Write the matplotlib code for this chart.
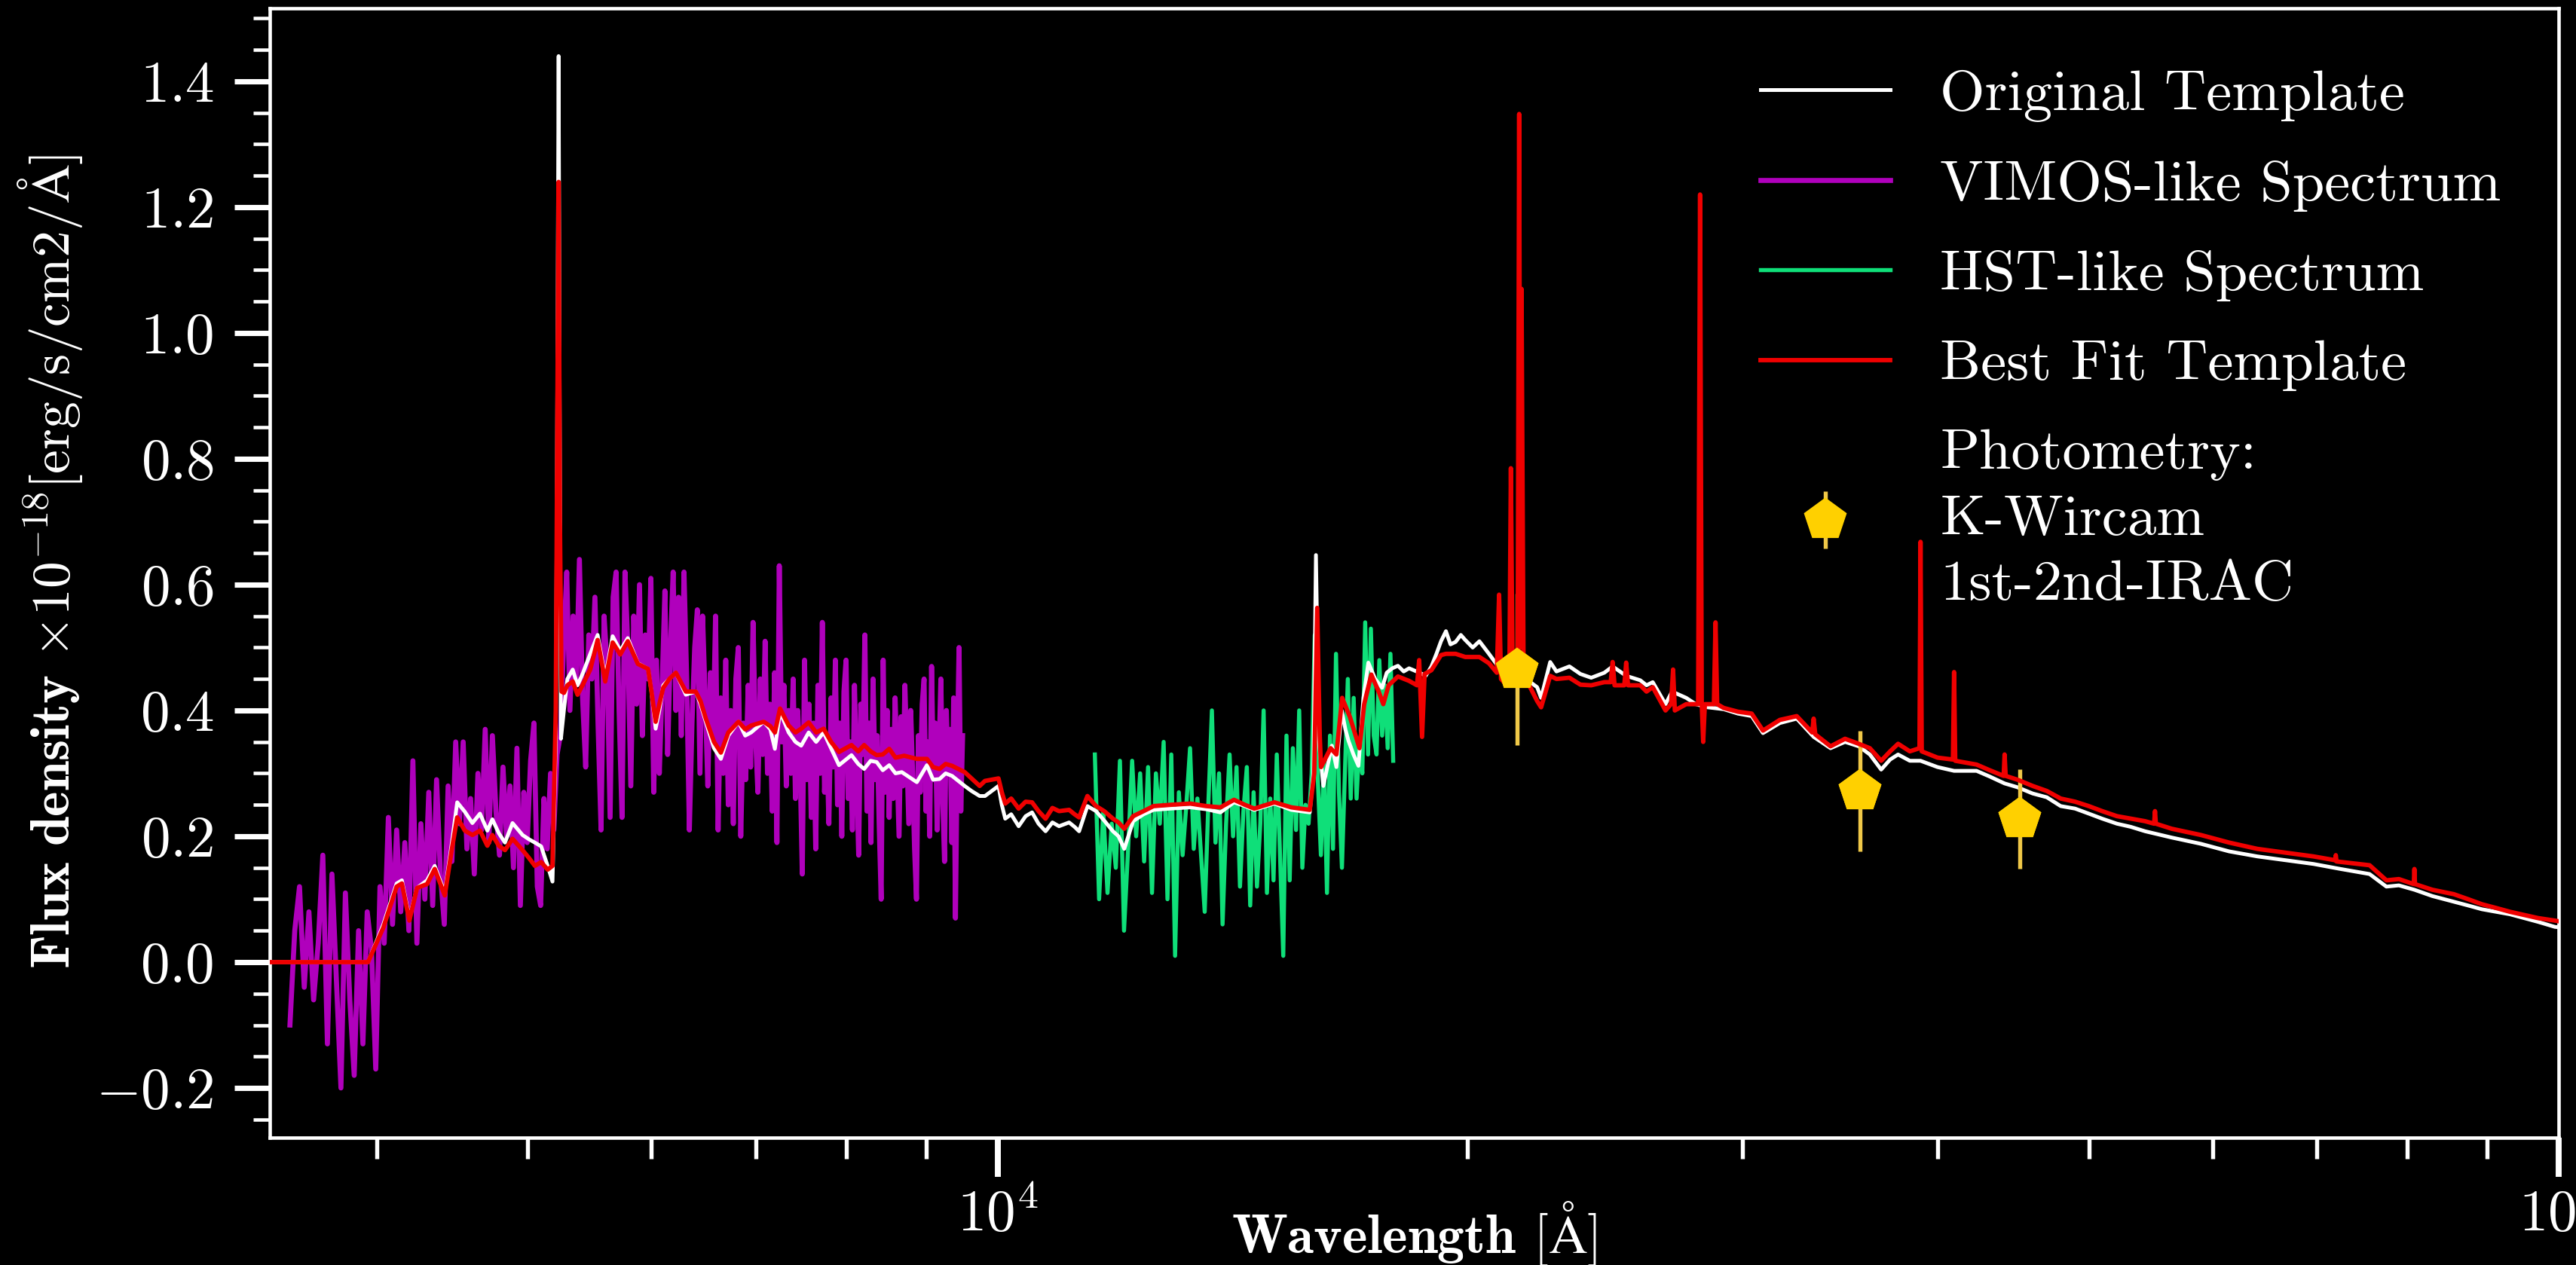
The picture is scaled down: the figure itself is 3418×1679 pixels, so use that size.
import numpy as np
import matplotlib
matplotlib.use("Agg")
import matplotlib.pyplot as plt
from matplotlib.ticker import MultipleLocator, LogLocator, NullFormatter, LogFormatterSciNotation

# ---------------- data ----------------
# Original template (white)
orig_wave = [3000, 3950, 4040, 4120, 4152, 4198, 4246, 4309, 4358, 4423, 4470, 4505, 4556, 4607,
             4659, 4710, 4745, 4790, 4834, 4888, 4961, 5010, 5052, 5099, 5148, 5185, 5210, 5224,
             5232, 5240, 5250, 5273, 5300, 5342, 5380, 5422, 5482, 5542, 5604, 5666, 5730, 5794,
             5881, 5970, 6000, 6037, 6070, 6105, 6160, 6220, 6312, 6405, 6450, 6501, 6580, 6647,
             6720, 6822, 6890, 6950, 7080, 7150, 7198, 7253, 7346, 7420, 7483, 7566, 7650, 7735,
             7820, 7912, 8059, 8140, 8211, 8290, 8364, 8440, 8521, 8600, 8680, 8875, 9008, 9090,
             9177, 9260, 9348, 9524, 9621, 9737, 9813, 10011, 10060, 10111, 10200, 10313, 10420,
             10519, 10620, 10731, 10840, 10946, 11110, 11200, 11275, 11414, 11560, 11700, 11852,
             11950, 12052, 12210, 12400, 12584, 12900, 13287, 13600, 13890, 14170, 14400, 14600,
             15040, 15420, 15845, 15930, 15990, 16060, 16165, 16370, 16480, 16610, 16700, 16775,
             16900, 17025, 17150, 17275, 17450, 17630, 17750, 17895, 18046, 18200, 18345, 18630,
             18800, 18960, 19100, 19230, 19370, 19500, 19650, 19800, 19930, 20150, 20350, 20640,
             20850, 21010, 21300, 21600, 21800, 22160, 22290, 22590, 22800, 23240, 23620, 24000,
             24470, 24770, 25270, 25800, 26040, 26280, 26780, 27040, 27610, 28000, 28500, 29180,
             29800, 30410, 30920, 31700, 32500, 33320, 34160, 34900, 35610, 36200, 36810, 37300,
             37740, 38400, 39010, 40000, 40990, 42370, 43200, 44160, 45000, 46030, 47000, 47970,
             49000, 50000, 51000, 52120, 53200, 54330, 56500, 59000, 61500, 64120, 66800, 69650,
             72500, 75660, 77560, 79000, 80830, 83000, 85670, 87500, 89300, 91200, 93080, 95000,
             97000, 99450, 100500]
orig_flux = [0.0, 0.0, 0.06, 0.125, 0.13, 0.07, 0.118, 0.13, 0.153, 0.11, 0.19, 0.254, 0.239, 0.221,
             0.236, 0.209, 0.227, 0.205, 0.19, 0.221, 0.202, 0.195, 0.19, 0.184, 0.153, 0.128, 0.35, 1.0,
             1.44, 0.9, 0.355, 0.40, 0.45, 0.465, 0.44, 0.459, 0.49, 0.52, 0.452, 0.518, 0.495, 0.515,
             0.475, 0.466, 0.43, 0.371, 0.40, 0.44, 0.45, 0.46, 0.425, 0.43, 0.41, 0.382, 0.34, 0.323,
             0.36, 0.382, 0.36, 0.365, 0.382, 0.37, 0.339, 0.398, 0.365, 0.35, 0.344, 0.365, 0.35, 0.365,
             0.34, 0.313, 0.329, 0.315, 0.307, 0.32, 0.318, 0.305, 0.313, 0.30, 0.302, 0.286, 0.313, 0.29,
             0.291, 0.30, 0.296, 0.28, 0.272, 0.264, 0.264, 0.28, 0.25, 0.228, 0.235, 0.216, 0.232,
             0.238, 0.22, 0.208, 0.222, 0.216, 0.222, 0.215, 0.208, 0.248, 0.24, 0.225, 0.208,
             0.20, 0.18, 0.224, 0.235, 0.242, 0.244, 0.246, 0.243, 0.238, 0.254, 0.248, 0.242,
             0.252, 0.242, 0.238, 0.30, 0.647, 0.35, 0.28, 0.344, 0.31, 0.40, 0.37, 0.352,
             0.33, 0.312, 0.42, 0.476, 0.45, 0.436, 0.46, 0.467, 0.471, 0.462, 0.467, 0.46,
             0.455, 0.47, 0.49, 0.51, 0.526, 0.505, 0.509, 0.52, 0.512, 0.50, 0.51, 0.49,
             0.475, 0.46, 0.462, 0.47, 0.45, 0.437, 0.42, 0.477, 0.462, 0.47, 0.458, 0.452,
             0.46, 0.47, 0.455, 0.448, 0.44, 0.445, 0.41, 0.43, 0.42, 0.41, 0.405, 0.402,
             0.395, 0.391, 0.364, 0.38, 0.387, 0.358, 0.34, 0.35, 0.343, 0.33, 0.306, 0.322,
             0.33, 0.32, 0.32, 0.31, 0.304, 0.304, 0.295, 0.284, 0.278, 0.268, 0.262, 0.248,
             0.244, 0.236, 0.228, 0.22, 0.215, 0.208, 0.198, 0.188, 0.176, 0.168, 0.162, 0.156,
             0.148, 0.14, 0.12, 0.122, 0.115, 0.105, 0.096, 0.09, 0.084, 0.08, 0.076, 0.07,
             0.064, 0.056, 0.055]

# Best fit template (red)
fit_wave = [3000, 3950, 4040, 4120, 4152, 4198, 4246, 4309, 4358, 4423, 4470, 4505, 4556, 4607,
            4659, 4710, 4745, 4790, 4834, 4888, 4961, 5010, 5052, 5099, 5148, 5185, 5210, 5224,
            5232, 5242, 5255, 5273, 5300, 5342, 5380, 5422, 5482, 5542, 5604, 5666, 5730, 5794,
            5881, 5970, 6000, 6037, 6070, 6105, 6160, 6220, 6312, 6405, 6450, 6501, 6580, 6647,
            6720, 6822, 6890, 6950, 7080, 7150, 7198, 7253, 7346, 7420, 7483, 7566, 7650, 7735,
            7820, 7912, 8059, 8140, 8211, 8290, 8364, 8440, 8521, 8600, 8711, 8875, 9008, 9090,
            9177, 9260, 9348, 9524, 9621, 9737, 9813, 10011, 10060, 10111, 10200, 10313, 10420,
            10519, 10620, 10731, 10840, 10946, 11110, 11200, 11275, 11414, 11560, 11700, 11852,
            11950, 12052, 12210, 12400, 12584, 12900, 13287, 13600, 13890, 14170, 14400, 14600,
            15040, 15420, 15845, 15950, 16020, 16080, 16110, 16340, 16480, 16620, 16810, 17050,
            17170, 17350, 17540, 17660, 17800, 18046, 18345, 18560, 18620, 18700, 18770, 18960,
            19230, 19370, 19650, 19930, 20350, 20640, 20880, 20950, 21010, 21100, 21270, 21317,
            21370, 21530, 21580, 21620, 21655, 21720, 21900, 22160, 22290, 22590, 22800, 23240,
            23620, 24000, 24470, 24700, 24770, 24840, 25200, 25270, 25340, 25800, 26040, 26280,
            26780, 27000, 27080, 27150, 27610, 28100, 28180, 28250, 28310, 28380, 28760, 28830,
            28900, 29180, 29800, 30410, 30920, 31700, 32500, 33250, 33320, 33400, 34160, 34900,
            35610, 36200, 36810, 37300, 37740, 38400, 38950, 39010, 39080, 40000, 40920, 40990,
            41060, 42370, 43200, 44100, 44160, 44230, 45000, 46030, 47000, 47970, 49000, 50000,
            51000, 52120, 53200, 54330, 55060, 55130, 55200, 56500, 59000, 61500, 64120, 66800,
            69650, 71900, 71980, 72060, 75660, 77560, 79000, 80760, 80830, 80900, 83000, 85670,
            87500, 89300, 91200, 93080, 95000, 97000, 99450, 100500]
fit_flux = [0.0, 0.0, 0.055, 0.12, 0.125, 0.066, 0.118, 0.124, 0.148, 0.106, 0.18, 0.23, 0.209, 0.202,
            0.209, 0.185, 0.202, 0.185, 0.178, 0.196, 0.178, 0.165, 0.153, 0.159, 0.147, 0.153, 0.40, 0.95,
            1.24, 0.70, 0.43, 0.428, 0.44, 0.446, 0.425, 0.441, 0.465, 0.512, 0.446, 0.508, 0.489, 0.51,
            0.474, 0.466, 0.43, 0.382, 0.41, 0.436, 0.45, 0.46, 0.43, 0.43, 0.415, 0.387, 0.35, 0.333,
            0.365, 0.382, 0.37, 0.376, 0.382, 0.375, 0.365, 0.403, 0.376, 0.365, 0.371, 0.381, 0.365, 0.371,
            0.35, 0.334, 0.345, 0.335, 0.345, 0.335, 0.329, 0.33, 0.339, 0.325, 0.328, 0.323, 0.323, 0.31,
            0.307, 0.315, 0.312, 0.302, 0.292, 0.28, 0.288, 0.292, 0.27, 0.252, 0.26, 0.244, 0.255,
            0.254, 0.24, 0.228, 0.245, 0.24, 0.242, 0.235, 0.23, 0.264, 0.248, 0.24, 0.228,
            0.222, 0.212, 0.232, 0.24, 0.248, 0.25, 0.252, 0.248, 0.246, 0.258, 0.25, 0.244,
            0.254, 0.246, 0.242, 0.30, 0.563, 0.36, 0.31, 0.34, 0.33, 0.42, 0.39, 0.34,
            0.41, 0.457, 0.43, 0.41, 0.44, 0.454, 0.447, 0.44, 0.48, 0.358, 0.458, 0.464,
            0.488, 0.49, 0.49, 0.485, 0.485, 0.475, 0.46, 0.584, 0.45, 0.445, 0.45, 0.785,
            0.46, 0.46, 1.348, 0.50, 1.07, 0.46, 0.44, 0.415, 0.405, 0.455, 0.45, 0.452,
            0.441, 0.44, 0.445, 0.445, 0.477, 0.44, 0.44, 0.476, 0.44, 0.44, 0.43, 0.437,
            0.40, 0.41, 0.465, 0.40, 0.41, 0.41, 1.22, 0.41, 0.35, 0.41, 0.41, 0.54,
            0.41, 0.404, 0.398, 0.395, 0.368, 0.385, 0.391, 0.365, 0.387, 0.362, 0.343, 0.355,
            0.347, 0.34, 0.32, 0.335, 0.347, 0.335, 0.34, 0.668, 0.335, 0.325, 0.322, 0.461,
            0.32, 0.314, 0.305, 0.296, 0.33, 0.296, 0.29, 0.28, 0.272, 0.26, 0.255, 0.248,
            0.24, 0.232, 0.228, 0.224, 0.22, 0.24, 0.22, 0.212, 0.202, 0.19, 0.18, 0.174,
            0.168, 0.162, 0.17, 0.16, 0.154, 0.13, 0.132, 0.124, 0.148, 0.124, 0.115, 0.108,
            0.1, 0.092, 0.086, 0.08, 0.075, 0.07, 0.066, 0.064]

# VIMOS-like spectrum: pixel grid start / step (Angstrom) and fluxes
VIMOS_START = 3520
VIMOS_STEP = 25
vimos_flux = [
    -0.10, 0.05, 0.12, -0.04, 0.08, -0.06, 0.03, 0.17,
    -0.13, 0.14, -0.03, -0.20, 0.11, -0.06, -0.18, 0.05, -0.13, 0.08,
    0.02, -0.17, 0.12, 0.03, 0.23, 0.06, 0.21,
    0.08, 0.19, 0.05, 0.32, 0.03, 0.22, 0.10, 0.27, 0.09, 0.29, 0.14, 0.06, 0.28,
    0.16, 0.35, 0.22, 0.35, 0.18, 0.26, 0.14, 0.30, 0.21, 0.37, 0.19, 0.36, 0.24, 0.17, 0.31,
    0.20, 0.28, 0.15, 0.34, 0.09, 0.27, 0.19, 0.32, 0.38, 0.12, 0.09, 0.26, 0.18, 0.30, 0.21, 0.33,
    0.36, 0.50, 0.62, 0.40, 0.55, 0.44, 0.64, 0.42, 0.31, 0.52, 0.45, 0.58, 0.38, 0.21, 0.55, 0.47,
    0.23, 0.58, 0.62, 0.40, 0.23, 0.62, 0.50,
    0.28, 0.55, 0.41, 0.60, 0.36, 0.52, 0.45, 0.61, 0.27, 0.48, 0.30, 0.44, 0.59, 0.33, 0.50, 0.62,
    0.40, 0.58, 0.36, 0.62, 0.45, 0.21,
    0.38, 0.50, 0.56, 0.30, 0.55, 0.42, 0.28, 0.46, 0.35, 0.55, 0.21, 0.42, 0.30, 0.48, 0.25, 0.40,
    0.22, 0.45, 0.50, 0.20, 0.38, 0.29, 0.44, 0.31, 0.54, 0.36, 0.27, 0.45, 0.33, 0.51, 0.30, 0.41,
    0.24, 0.46, 0.19, 0.63, 0.35, 0.44, 0.28, 0.40,
    0.30, 0.45, 0.26, 0.40, 0.32, 0.14, 0.48, 0.29, 0.41, 0.23, 0.38, 0.18, 0.44, 0.30, 0.54, 0.27,
    0.36, 0.22, 0.42, 0.31, 0.48, 0.25, 0.38, 0.20, 0.43, 0.48, 0.26, 0.35, 0.21, 0.44, 0.30, 0.17,
    0.41, 0.33, 0.52, 0.24, 0.38, 0.19, 0.45, 0.29, 0.36, 0.22, 0.10, 0.48, 0.27, 0.40, 0.23,
    0.37, 0.26, 0.42, 0.31, 0.20, 0.39, 0.28, 0.44, 0.33, 0.22, 0.40, 0.30, 0.18, 0.10, 0.36, 0.27,
    0.41, 0.45, 0.24, 0.35, 0.20, 0.47, 0.29, 0.38, 0.21, 0.33, 0.45, 0.26, 0.16, 0.40, 0.30, 0.37,
    0.19, 0.42, 0.07, 0.33, 0.50, 0.24, 0.36]

# HST-like spectrum: pixel grid start / step (Angstrom) and fluxes
HST_START = 11540
HST_STEP = 72.5
hst_flux = [
    0.33, 0.10, 0.24, 0.11, 0.22, 0.15, 0.32,
    0.05, 0.18, 0.32, 0.20, 0.30, 0.16, 0.31, 0.11, 0.30, 0.22, 0.35, 0.10,
    0.33, 0.01, 0.27, 0.17, 0.25, 0.34, 0.18, 0.26, 0.17, 0.08, 0.25, 0.40, 0.19,
    0.30, 0.06, 0.22, 0.33, 0.20, 0.31, 0.12, 0.24, 0.31, 0.09, 0.27, 0.12, 0.22, 0.40,
    0.11, 0.26, 0.13, 0.33, 0.17, 0.01, 0.36, 0.13, 0.34, 0.21, 0.40, 0.15, 0.25, 0.22, 0.30,
    0.52, 0.29, 0.17, 0.32, 0.11, 0.36, 0.18, 0.49, 0.27, 0.15, 0.30, 0.45, 0.26, 0.42, 0.26, 0.35, 0.30,
    0.54, 0.33, 0.53, 0.36, 0.33, 0.48, 0.36, 0.44, 0.34, 0.49, 0.32]

# Photometry: K-Wircam, IRAC ch1, IRAC ch2
phot_wave = [21510, 35660, 45170]
phot_flux = [0.465, 0.272, 0.227]
phot_err = [0.12, 0.096, 0.079]

vimos_wave = VIMOS_START + VIMOS_STEP * np.arange(len(vimos_flux))
hst_wave = HST_START + HST_STEP * np.arange(len(hst_flux))

# ---------------- style ----------------
plt.rcParams['font.family'] = 'serif'
plt.rcParams['font.serif'] = ['cmr10', 'DejaVu Serif']
plt.rcParams['mathtext.fontset'] = 'cm'
plt.rcParams['axes.formatter.use_mathtext'] = True
plt.rcParams['axes.unicode_minus'] = True

TICK_FS = 18.5
LEG_FS = 18.4
LAB_FS = 17.2
GOLD = '#ffd000'

fig = plt.figure(figsize=(3418 / 300, 1679 / 300), dpi=300, facecolor='black')
ax = fig.add_axes([0.10474, 0.10066, 0.88853, 0.89279])
ax.set_facecolor('black')

l_orig, = ax.plot(orig_wave, orig_flux, color='white', lw=1.2, zorder=2, label='Original Template')
l_vim, = ax.plot(vimos_wave, vimos_flux, color='#c400d2', alpha=0.9, lw=1.6, zorder=1,
                 label='VIMOS-like Spectrum')
l_hst, = ax.plot(hst_wave, hst_flux, color='#10ec80', alpha=0.95, lw=1.3, zorder=1,
                 label='HST-like Spectrum')
l_fit, = ax.plot(fit_wave, fit_flux, color='#f00000', lw=1.4, zorder=3, label='Best Fit Template')
eb = ax.errorbar(phot_wave, phot_flux, yerr=phot_err, fmt='p', ms=13, mfc=GOLD, mec=GOLD,
                 ecolor='#f0c848', elinewidth=1.3, capsize=0, zorder=2.5,
                 label='Photometry:\nK-Wircam\n1st-2nd-IRAC')
ax.plot(phot_wave, phot_flux, 'p', ms=13, mfc=GOLD, mec=GOLD, zorder=5)

ax.set_xscale('log')
ax.set_xlim(3417, 100000)
ax.set_ylim(-0.279, 1.516)

ax.xaxis.set_major_locator(LogLocator(base=10))
ax.xaxis.set_minor_locator(LogLocator(base=10, subs=np.arange(2, 10)))
ax.xaxis.set_major_formatter(LogFormatterSciNotation())
ax.xaxis.set_minor_formatter(NullFormatter())
ax.yaxis.set_major_locator(MultipleLocator(0.2))
ax.yaxis.set_minor_locator(MultipleLocator(0.05))

for s in ax.spines.values():
    s.set_color('white')
    s.set_linewidth(1.1)

ax.tick_params(axis='x', which='major', direction='out', length=12.5, width=1.9,
               colors='white', labelsize=TICK_FS, pad=3.5)
ax.tick_params(axis='x', which='minor', direction='out', length=6.7, width=1.3, colors='white')
ax.tick_params(axis='y', which='major', direction='out', length=11.3, width=1.7,
               colors='white', labelsize=TICK_FS, pad=6.5)
ax.tick_params(axis='y', which='minor', direction='out', length=5.3, width=1.1, colors='white')

ax.set_xlabel(r'$\mathbf{Wavelength}$ [$\mathrm{\AA}$]', color='white', fontsize=LAB_FS)
ax.set_ylabel(r'$\mathbf{Flux\ density}$ $\times10^{-18}$[erg/s/cm2/$\mathrm{\AA}$]',
              color='white', fontsize=LAB_FS)
ax.xaxis.set_label_coords(0.5, -0.055)
ax.yaxis.set_label_coords(-0.081, 0.51)

leg = ax.legend(handles=[l_orig, l_vim, l_hst, l_fit, eb], loc='upper left',
                bbox_to_anchor=(0.6513, 0.946), frameon=False, fontsize=LEG_FS,
                borderpad=0, borderaxespad=0, handlelength=2.24, handletextpad=0.87,
                labelspacing=0.66)
for t in leg.get_texts():
    t.set_color('white')
    t.set_linespacing(1.36)

fig.savefig('out.png', dpi=300, facecolor='black')
